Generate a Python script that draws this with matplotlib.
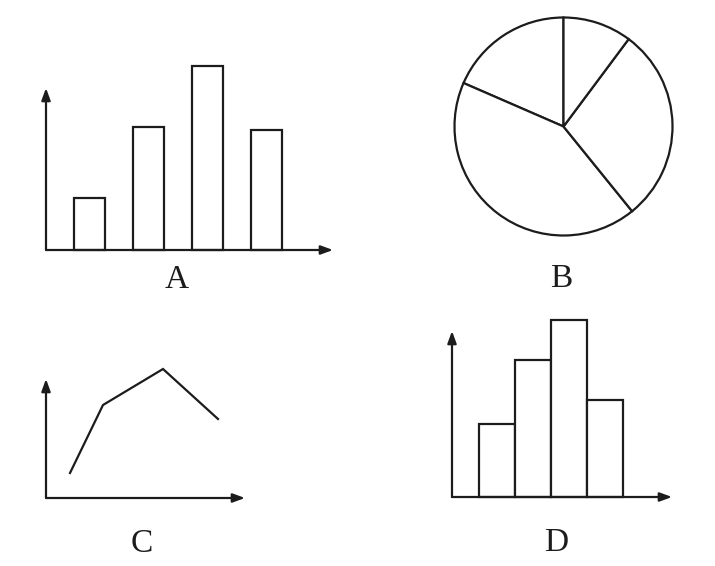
import matplotlib
matplotlib.use("Agg")
import matplotlib.pyplot as plt

W, H = 715, 566
INK = "#1c1c1c"
LW = 1.6

# ---- data ----
# Chart A: bar chart (4 separated bars)
a_positions = [1, 2, 3, 4]
a_heights = [52, 123, 184, 120]
# Chart B: pie chart, slice angles in degrees (counter-clockwise from top)
b_slices = [66.5, 152.5, 104.3, 36.7]
# Chart C: broken line
c_x = [24, 57, 117, 172]
c_y = [25, 93, 129, 79]
# Chart D: histogram (adjacent bars)
d_left_edges = [1, 2, 3, 4]
d_heights = [73, 137, 177, 97]
labels = ["A", "B", "C", "D"]

plt.rcParams["font.family"] = ["Liberation Serif", "DejaVu Serif"]

fig = plt.figure(figsize=(W / 100, H / 100), dpi=100)
fig.patch.set_facecolor("white")


def px_axes(x0, x1, ybase, ytop):
    return fig.add_axes([x0 / W, 1 - ybase / H, (x1 - x0) / W, (ybase - ytop) / H])


def arrows(ax):
    style = "-|>,head_length=0.6,head_width=0.22"
    for end in [(1, 0), (0, 1)]:
        ax.annotate("", xy=end, xytext=(0, 0), xycoords="axes fraction",
                    textcoords="axes fraction",
                    arrowprops=dict(arrowstyle=style, lw=LW, color=INK,
                                    mutation_scale=12, shrinkA=0, shrinkB=0))


def clean(ax):
    for s in ax.spines.values():
        s.set_visible(False)
    ax.set_xticks([])
    ax.set_yticks([])
    ax.patch.set_alpha(0)


# Chart A
axA = px_axes(46, 333, 250, 88)
axA.bar(a_positions, a_heights, width=0.525, facecolor="white",
        edgecolor=INK, linewidth=LW, clip_on=False)
axA.set_xlim(0.263, 5.127)
axA.set_ylim(0, 162)
clean(axA)
arrows(axA)

# Chart B
axB = fig.add_axes([454.5 / W, 1 - 235.5 / H, 218 / W, 218 / H])
axB.pie(b_slices, startangle=90, counterclock=True, colors=["white"] * 4,
        wedgeprops=dict(edgecolor=INK, linewidth=LW))
axB.set_xlim(-1.0, 1.0)
axB.set_ylim(-1.0, 1.0)
axB.set_aspect("equal")
clean(axB)

# Chart C
axC = px_axes(46, 245, 498, 379)
axC.plot(c_x, c_y, color=INK, linewidth=LW, solid_joinstyle="miter", clip_on=False)
axC.set_xlim(0, 199)
axC.set_ylim(0, 119)
clean(axC)
arrows(axC)

# Chart D
axD = px_axes(452, 672, 497, 331)
axD.bar(d_left_edges, d_heights, width=1.0, align="edge", facecolor="white",
        edgecolor=INK, linewidth=LW, clip_on=False)
axD.set_xlim(0.25, 6.36)
axD.set_ylim(0, 166)
clean(axD)
arrows(axD)

# Labels
label_pos = [(177, 288), (561, 287), (142, 552), (556, 551)]
for lab, (x, y) in zip(labels, label_pos):
    fig.text(x / W, 1 - y / H, lab, ha="center", va="baseline",
             fontsize=24, color=INK)

fig.savefig("out.png", dpi=100, facecolor="white")
